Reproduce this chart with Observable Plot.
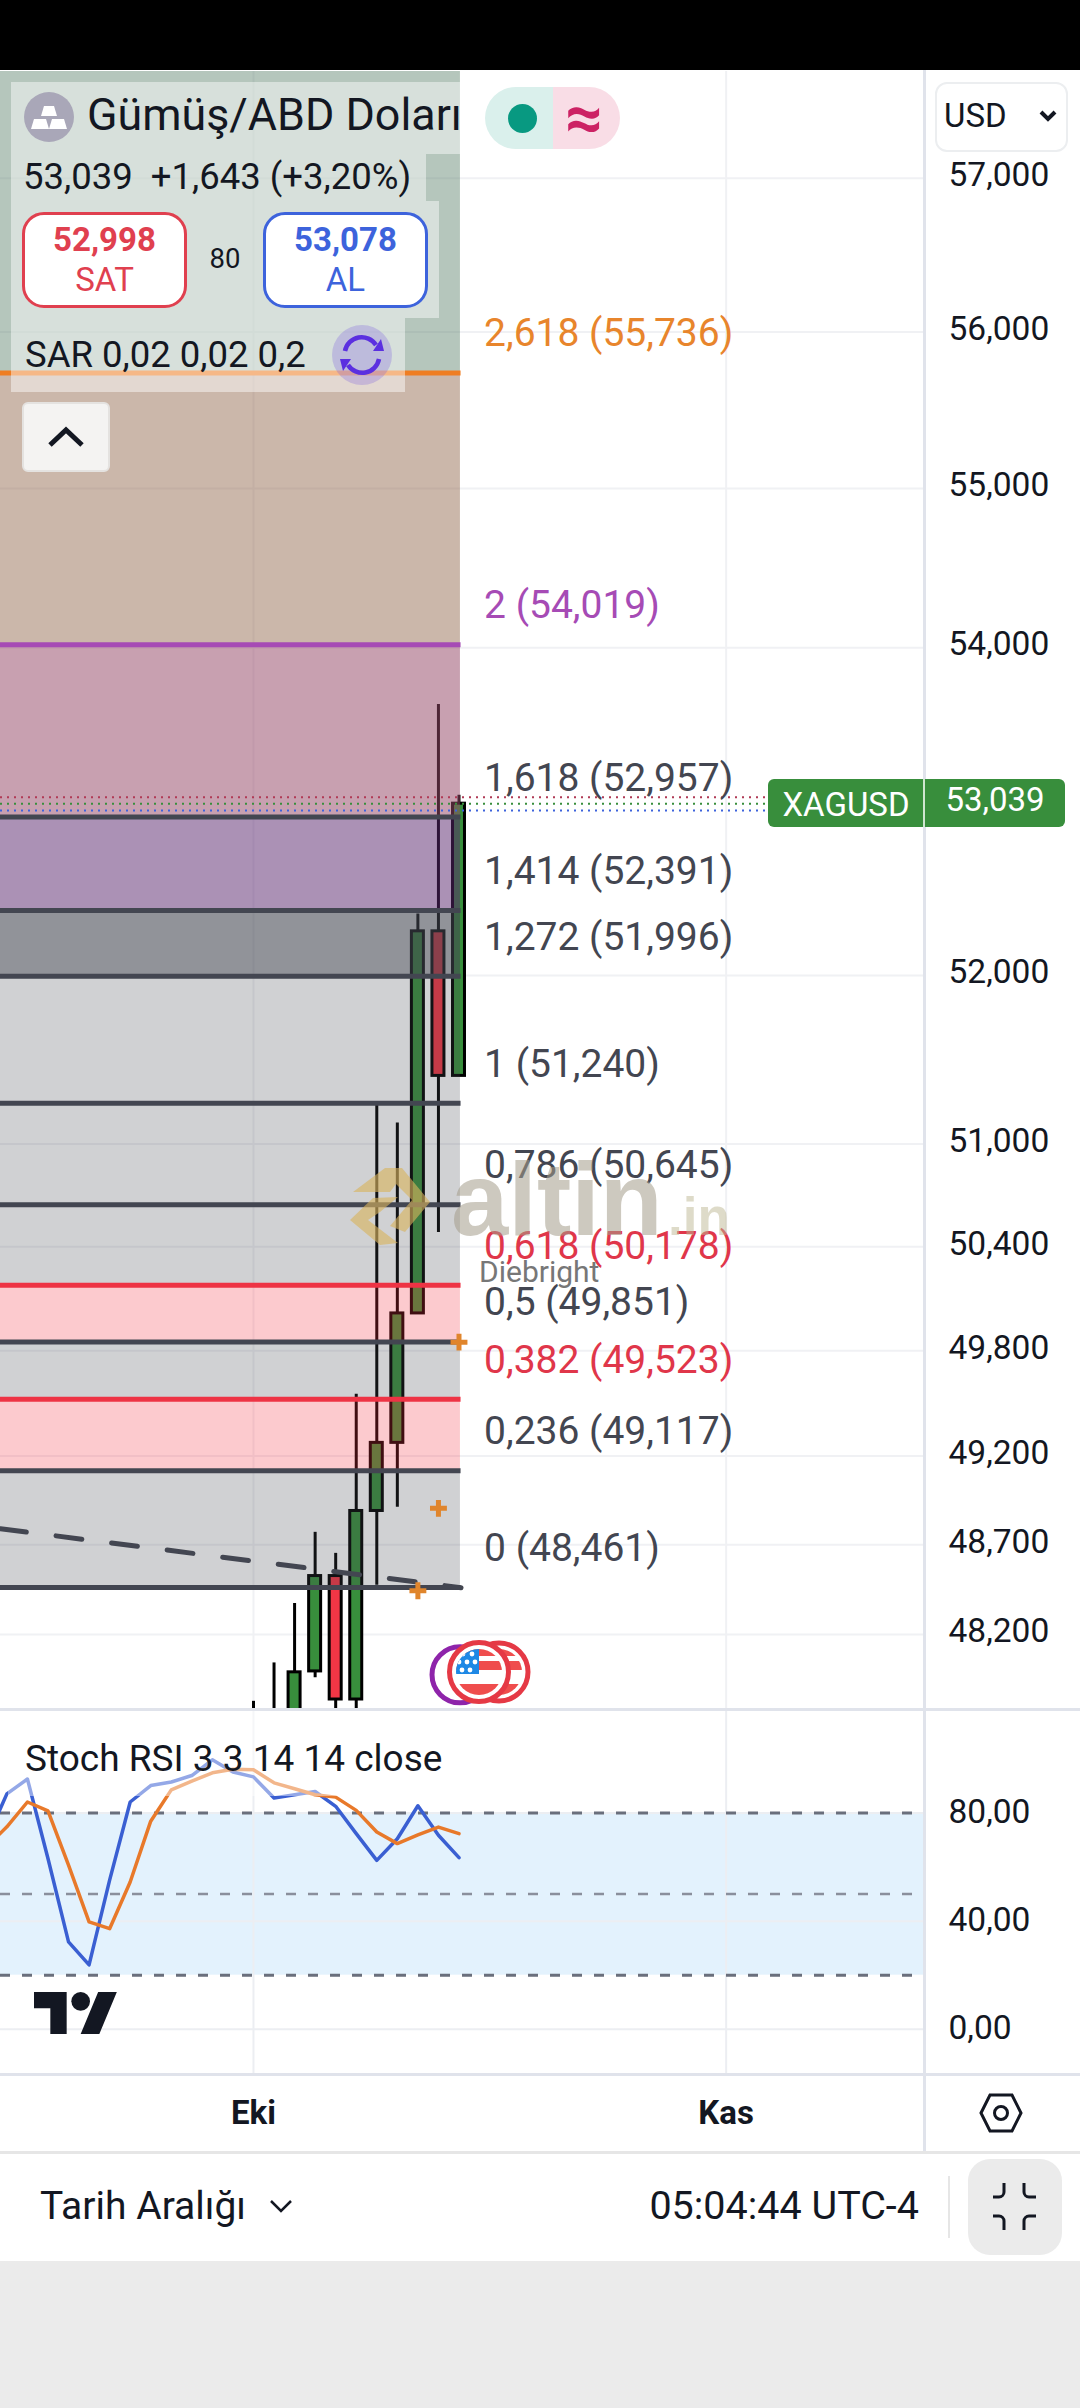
<!DOCTYPE html>
<html><head><meta charset="utf-8">
<script src="https://cdn.jsdelivr.net/npm/d3@7"></script>
<script src="https://cdn.jsdelivr.net/npm/@observablehq/plot@0.6"></script>
<style>
html,body{margin:0;padding:0;background:#ebebeb;}
#page{position:relative;width:1080px;height:2408px;overflow:hidden;font-family:Roboto,sans-serif;color:#131722;background:#ebebeb;}
.abs{position:absolute;}
.t{position:absolute;white-space:nowrap;line-height:1;transform:translateY(-50%);}
svg{display:block;}
</style></head><body><div id="page"></div>
<script>
// ---------- data ----------
const barIndex = [0,1,2,3,4,5,6,7,8,9,10];
const opens  = [null,null,47700,47995,48525,47840,48890,49275,50015,52265,51402];
const closes = [null,null,47990,48525,47840,48890,49275,50015,52265,51402,53039];
const highs  = [47830,48042,48372,48770,48652,49552,51236,51124,52370,53648,53090];
const lows   = [47700,47700,47700,47960,47700,47700,48473,48911,50015,50484,51402];

const fibLevels = ["2,618","2","1,618","1,414","1,272","1","0,786","0,618","0,5","0,382","0,236","0"];
const fibPrices = [55736,54019,52957,52391,51996,51240,50645,50178,49851,49523,49117,48461];

const priceTicks = [57000,56000,55000,54000,52000,51000,50400,49800,49200,48700,48200];
const sarIndex = [8,9,10];
const sarValues = [48443,48905,49850];
const trendIndex = [-12.31,10.1];
const trendValues = [48790,48460];
const quoteValues = [53078,53039,52998];
const eventIndex = [10.05,11,11.97];

const rsiIndex = [-13,-12,-11,-10,-9,-8,-7,-6,-5,-4,-3,-2,-1,0,1,2,3,4,5,6,7,8,9,10];
const rsiK = [69.9,87.1,92.6,63.2,32.3,23.8,55.2,84.1,90.2,91.5,93.9,99.7,95.2,93.4,85.6,86.8,88.0,82.5,72.4,62.5,70.5,82.7,71.8,63.5];
const rsiD = [67.4,74.9,84.1,80.8,60.7,39.7,37.2,54.5,77.0,88.6,91.8,94.9,96.2,96.0,91.2,89.0,86.8,85.9,81.0,73.0,68.7,71.9,74.8,72.4];
const rsiTicks = [80,40,0];
const rsiBands = [80,50,20];
const timeTicks = [0,23];
const timeLabels = ["Eki","Kas"];

// ---------- shared scale settings ----------
const xDomain = [-12.31,32.7];
const priceDomain = [47785,57705];
const fibEnd = 10.1;
const tickFmt = d3.format(",");
const fontFamily = "Roboto, sans-serif";

const page = document.getElementById("page");
function place(node, top){
  const d = document.createElement("div");
  d.className = "abs"; d.style.left = "0"; d.style.top = top + "px";
  d.appendChild(node); page.appendChild(d); return d;
}
function html(s){ const d=document.createElement("div"); d.innerHTML=s; while(d.firstChild) page.appendChild(d.firstChild); }

// white chart background
html(`<div class="abs" style="left:0;top:70px;width:1080px;height:2191px;background:#fff"></div>`);

// ---------- price pane ----------
const bars = barIndex.map((i,k)=>({i,open:opens[k],close:closes[k],high:highs[k],low:lows[k]}));
const bodies = bars.filter(d=>d.open!=null);
const fibs = fibLevels.map((level,k)=>({level,price:fibPrices[k]}));
const zoneFills = ["rgba(90,128,106,.45)","rgba(140,95,66,.45)","rgba(150,72,103,.52)","rgba(90,40,110,.51)",
  "rgba(67,70,81,.585)","rgba(67,70,81,.25)","rgba(67,70,81,.25)","rgba(67,70,81,.25)",
  "rgba(242,54,69,.264)","rgba(67,70,81,.25)","rgba(242,54,69,.264)","rgba(67,70,81,.25)"];
const zones = fibPrices.map((p,k)=>({y1:k?fibPrices[k-1]:priceDomain[1],y2:p,fill:zoneFills[k]}));
const fibLineColor = l => l==="2,618"?"#ef7d22":l==="2"?"#a64bb5":(l==="0,618"||l==="0,382")?"#ee3344":"#434651";
const fibTextColor = l => l==="2,618"?"#e8852c":l==="2"?"#a64bb5":(l==="0,618"||l==="0,382")?"#e0364a":"#434651";
const quoteColors = ["#b03a55","#388e3c","#3d63dc"];

const pricePlot = Plot.plot({
  width:1080,height:1638,marginTop:0,marginBottom:0,marginLeft:0,marginRight:155,
  style:{background:"transparent",fontFamily,overflow:"visible"},
  x:{domain:xDomain,axis:null},
  y:{type:"log",domain:priceDomain},
  color:{type:"identity"},
  marks:[
    Plot.ruleY(priceTicks,{stroke:"#f0f1f4",strokeWidth:2}),
    Plot.ruleX(timeTicks,{stroke:"#f0f1f4",strokeWidth:2}),
    Plot.ruleX(bars,{x:"i",y1:"low",y2:"high",stroke:"#000",strokeWidth:3,clip:true}),
    Plot.rect(bodies,{x1:d=>d.i-.292,x2:d=>d.i+.292,y1:"open",y2:"close",
      fill:d=>d.close>=d.open?"#388e3c":"#f23645",stroke:"#000",strokeWidth:3,clip:true}),
    Plot.rect(zones,{x1:xDomain[0],x2:fibEnd-.03,y1:"y1",y2:"y2",fill:"fill"}),
    Plot.ruleY(fibs,{y:"price",x1:xDomain[0],x2:fibEnd,stroke:d=>fibLineColor(d.level),strokeWidth:5}),
    Plot.line(trendIndex.map((x,k)=>({x,y:trendValues[k]})),{x:"x",y:"y",stroke:"#434651",strokeWidth:5,strokeDasharray:"26 30"}),
    Plot.dot(sarIndex.map((x,k)=>({x,y:sarValues[k]})),{x:"x",y:"y",symbol:"plus",r:5.5,stroke:"#e0852c",strokeWidth:5,fill:"none"}),
    Plot.ruleY(quoteValues.map((y,k)=>({y,c:quoteColors[k]})),{y:"y",x1:xDomain[0],x2:25.06,stroke:"c",strokeWidth:2,strokeDasharray:"2 5"}),
    Plot.dot(eventIndex.slice(0,1),{x:d=>d,y:()=>47976,r:28,stroke:"#8e24aa",strokeWidth:5,fill:"#fff"}),
    Plot.text(fibs,{x:()=>11.22,y:"price",text:d=>`${d.level} (${tickFmt(d.price)})`,textAnchor:"start",dy:-39,
      fontSize:39,fill:d=>fibTextColor(d.level)}),
    Plot.axisY(priceTicks,{anchor:"right",tickSize:0,tickPadding:23,tickFormat:tickFmt,fontSize:33.5,label:null,fill:"#131722",dy:-3,fontVariant:"normal"})
  ]
});
place(pricePlot,71);

// ---------- stochastic RSI pane ----------
const rsiRows = rsiIndex.map((x,k)=>({x,k:rsiK[k],d:rsiD[k]}));
const rsiPlot = Plot.plot({
  width:1080,height:362,marginTop:0,marginBottom:0,marginLeft:0,marginRight:155,
  style:{background:"transparent",fontFamily,overflow:"visible"},
  x:{domain:xDomain,axis:null},
  y:{domain:[-16.4,117.6]},
  marks:[
    Plot.rect([0],{x1:xDomain[0],x2:xDomain[1],y1:()=>20,y2:()=>80,fill:"#e3f2fd"}),
    Plot.ruleY(rsiTicks,{stroke:"#eceef2",strokeWidth:2}),
    Plot.ruleX(timeTicks,{stroke:"#eceef2",strokeWidth:2}),
    Plot.ruleY([rsiBands[0],rsiBands[2]],{stroke:"#6a6f7c",strokeWidth:3,strokeDasharray:"10 12"}),
    Plot.ruleY([rsiBands[1]],{stroke:"#8a8f9c",strokeWidth:2.5,strokeDasharray:"10 12"}),
    Plot.line(rsiRows,{x:"x",y:"k",stroke:"#3a5fd2",strokeWidth:3.5,clip:true}),
    Plot.line(rsiRows,{x:"x",y:"d",stroke:"#e8792a",strokeWidth:3.5,clip:true}),
    Plot.axisY(rsiTicks,{anchor:"right",tickSize:0,tickPadding:23,tickFormat:d=>d3.format(".2f")(d).replace(".",","),fontSize:33.5,label:null,fill:"#131722",dy:-1,fontVariant:"normal"})
  ]
});
place(rsiPlot,1711);

// ---------- time axis ----------
const timePlot = Plot.plot({
  width:1080,height:78,marginTop:0,marginBottom:58,marginLeft:0,marginRight:155,
  style:{background:"transparent",fontFamily,overflow:"visible"},
  x:{domain:xDomain},
  marks:[
    Plot.axisX(timeTicks,{anchor:"bottom",tickSize:0,tickPadding:6,tickFormat:(d,k)=>timeLabels[k],fontSize:33,fontWeight:700,label:null,fill:"#131722",fontVariant:"normal"})
  ]
});
place(timePlot,2074);

// ---------- interface chrome ----------
html(`
<div class="abs" style="left:0;top:0;width:1080px;height:70px;background:#000"></div>
<div class="abs" style="left:0;top:1708px;width:1080px;height:3px;background:#e0e3eb"></div>
<div class="abs" style="left:0;top:2073px;width:1080px;height:3px;background:#e0e3eb"></div>
<div class="abs" style="left:923px;top:70px;width:3px;height:2083px;background:#e0e3eb"></div>
<div class="abs" style="left:0;top:2151px;width:1080px;height:3px;background:#e6e6e6"></div>

<!-- US flag badges -->
<svg class="abs" style="left:440px;top:1632px" width="100" height="80" viewBox="0 0 100 80">
<defs><clipPath id="fc"><circle cx="39" cy="40" r="23"/></clipPath><clipPath id="fb"><circle cx="59" cy="40" r="23"/></clipPath></defs>
<circle cx="59" cy="40" r="29" fill="#fff" stroke="#e53945" stroke-width="5"/>
<g clip-path="url(#fb)"><rect x="30" y="29" width="60" height="9" fill="#ef4d4d"/><rect x="30" y="17" width="60" height="7" fill="#ef4d4d"/><rect x="30" y="52" width="60" height="14" fill="#ef4d4d"/><rect x="30" y="15" width="29" height="27" fill="#1e88e5"/></g>
<circle cx="39" cy="40" r="29.5" fill="#fff" stroke="#e53945" stroke-width="5"/>
<g clip-path="url(#fc)"><rect x="10" y="15" width="60" height="50" fill="#fff"/>
<rect x="10" y="17" width="60" height="7" fill="#ef4d4d"/><rect x="10" y="29" width="60" height="9" fill="#ef4d4d"/><rect x="10" y="52" width="60" height="14" fill="#ef4d4d"/>
<rect x="10" y="15" width="29" height="27" fill="#1e88e5"/>
<g fill="#fff"><circle cx="23" cy="22" r="2.4"/><circle cx="32" cy="22" r="2.4"/><circle cx="19" cy="30" r="2.4"/><circle cx="27" cy="30" r="2.4"/><circle cx="35" cy="30" r="2.4"/><circle cx="22" cy="38" r="2.4"/><circle cx="30" cy="38" r="2.4"/></g></g>
</svg>

<!-- watermark -->
<svg class="abs" style="left:340px;top:1150px;overflow:visible" width="420" height="110">
<g fill="#d9b35e" fill-opacity=".62">
<polygon points="13,42 45,18 62,18 90,52 65,82 50,76 72,50 56,34 50,42"/>
<polygon points="10,70 33,48 58,47 40,62 28,70 58,93 40,95"/>
</g>
<text x="111" y="85" font-family="Liberation Sans" font-weight="700" font-size="103" fill="#a49d8a" fill-opacity=".55">altin</text>
<text x="328" y="85" font-family="Liberation Sans" font-weight="700" font-size="53" fill="#bdb894" fill-opacity=".5">.in</text>
</svg>
<div class="t" style="left:479px;top:1272px;font-size:30px;color:#777">Diebright</div>

<!-- legend overlay -->
<div class="abs" style="left:11px;top:82px;width:449px;height:72px;background:rgba(255,255,255,.46)"></div>
<div class="abs" style="left:11px;top:154px;width:415px;height:47px;background:rgba(255,255,255,.46)"></div>
<div class="abs" style="left:11px;top:201px;width:428px;height:117px;background:rgba(255,255,255,.46)"></div>
<div class="abs" style="left:11px;top:318px;width:394px;height:74px;background:rgba(255,255,255,.46)"></div>
<svg class="abs" style="left:24px;top:92px" width="50" height="50" viewBox="0 0 50 50"><circle cx="25" cy="25" r="25" fill="#a9a7b8"/>
<g fill="#fff"><polygon points="20,14 30,14 33,24 17,24"/><polygon points="10,27 22,27 25,37 7,37"/><polygon points="28,27 40,27 43,37 25,37"/></g></svg>
<div class="abs" style="left:0;top:82px;width:461px;height:68px;overflow:hidden"><div class="t" style="left:87px;top:33px;font-size:44.8px">Gümüş/ABD Doları</div></div>
<div class="t" style="left:23px;top:177px;font-size:36.5px">53,039 &nbsp;+1,643 (+3,20%)</div>
<div class="abs" style="left:22px;top:212px;width:165px;height:96px;box-sizing:border-box;background:#fff;border:3px solid #e0404f;border-radius:22px"></div>
<div class="t" style="left:22px;width:165px;text-align:center;top:239px;font-size:33px;font-weight:700;color:#e0404f">52,998</div>
<div class="t" style="left:22px;width:165px;text-align:center;top:279px;font-size:33px;color:#e0404f">SAT</div>
<div class="t" style="left:187px;width:76px;text-align:center;top:259px;font-size:27.5px">80</div>
<div class="abs" style="left:263px;top:212px;width:165px;height:96px;box-sizing:border-box;background:#fff;border:3px solid #3d63dc;border-radius:22px"></div>
<div class="t" style="left:263px;width:165px;text-align:center;top:239px;font-size:33px;font-weight:700;color:#3d63dc">53,078</div>
<div class="t" style="left:263px;width:165px;text-align:center;top:279px;font-size:33px;color:#3d63dc">AL</div>
<div class="t" style="left:25px;top:355px;font-size:36.5px">SAR 0,02 0,02 0,2</div>
<svg class="abs" style="left:332px;top:325px" width="60" height="60" viewBox="0 0 60 60"><circle cx="30" cy="30" r="30" fill="#7b5fe0" fill-opacity=".28"/>
<g fill="none" stroke="#5b2fe0" stroke-width="4.5"><path d="M13 26a17 17 0 0 1 31-6"/><path d="M47 34a17 17 0 0 1-31 6"/></g>
<g fill="#5b2fe0"><polygon points="41,26 52,26 49,14"/><polygon points="19,34 8,34 11,46"/></g></svg>
<div class="abs" style="left:22px;top:402px;width:88px;height:70px;box-sizing:border-box;background:#f4f3f2;border:2px solid #e4e2e0;border-radius:6px"></div>
<svg class="abs" style="left:22px;top:402px" width="88" height="70"><path d="M28 43L44 28L60 43" fill="none" stroke="#131722" stroke-width="5"/></svg>

<!-- status pill -->
<div class="abs" style="left:485px;top:87px;width:68px;height:62px;background:#daf0ec;border-radius:31px 0 0 31px"></div>
<div class="abs" style="left:553px;top:87px;width:67px;height:62px;background:#f9dde6;border-radius:0 31px 31px 0"></div>
<div class="abs" style="left:508px;top:104px;width:29px;height:29px;background:#089981;border-radius:50%"></div>
<div class="t" style="left:553px;width:62px;text-align:center;top:118px;font-size:66px;font-weight:700;color:#cc2264">≈</div>

<!-- currency box -->
<div class="abs" style="left:935px;top:82px;width:133px;height:70px;box-sizing:border-box;background:#fff;border:2px solid #eceef0;border-radius:12px"></div>
<div class="t" style="left:944px;top:115px;font-size:33px">USD</div>
<svg class="abs" style="left:1038px;top:108px" width="20" height="16"><path d="M3 4L10 11L17 4" fill="none" stroke="#131722" stroke-width="4"/></svg>

<!-- last price tag -->
<div class="abs" style="left:768px;top:779px;width:297px;height:48px;background:#388e3c;border-radius:6px"></div>
<div class="abs" style="left:923px;top:779px;width:2px;height:48px;background:#cfe6d0"></div>
<div class="t" style="left:768px;width:156px;text-align:center;top:804px;font-size:33px;color:#fff">XAGUSD</div>
<div class="t" style="left:925px;width:140px;text-align:center;top:799px;font-size:33px;color:#fff">53,039</div>

<!-- RSI legend -->
<div class="abs" style="left:8px;top:1711px;width:442px;height:85px;background:rgba(255,255,255,.46)"></div>
<div class="t" style="left:25px;top:1758px;font-size:37px">Stoch RSI 3 3 14 14 close</div>
<svg class="abs" style="left:34px;top:1992px" width="84" height="42" viewBox="0 4 36 18"><path d="M14 22H7V11H0V4h14v18ZM28 22h-8l7.5-18h8L28 22Z" fill="#131722"/><circle cx="20" cy="8" r="4" fill="#131722"/></svg>

<!-- settings hexagon -->
<svg class="abs" style="left:975px;top:2090px" width="52" height="46"><polygon points="6,23 15,5 37,5 46,23 37,41 15,41" fill="none" stroke="#131722" stroke-width="3"/><circle cx="26" cy="23" r="6.5" fill="none" stroke="#131722" stroke-width="3"/></svg>

<!-- footer -->
<div class="t" style="left:40px;top:2206px;font-size:39px">Tarih Aralığı</div>
<svg class="abs" style="left:268px;top:2198px" width="26" height="16"><path d="M3 3L13 13L23 3" fill="none" stroke="#131722" stroke-width="2.5"/></svg>
<div class="t" style="right:161px;top:2206px;font-size:39.5px">05:04:44 UTC-4</div>
<div class="abs" style="left:948px;top:2176px;width:2px;height:62px;background:#e6e6e6"></div>
<div class="abs" style="left:968px;top:2159px;width:94px;height:96px;background:#ebebeb;border-radius:22px"></div>
<svg class="abs" style="left:990px;top:2180px" width="50" height="54"><g fill="none" stroke="#131722" stroke-width="3">
<path d="M14 3V12A5 5 0 0 1 9 17H3"/><path d="M34 3V12A5 5 0 0 0 39 17H46"/><path d="M14 50V41A5 5 0 0 0 9 36H3"/><path d="M34 50V41A5 5 0 0 1 39 36H46"/></g></svg>
`);
</script></body></html>
